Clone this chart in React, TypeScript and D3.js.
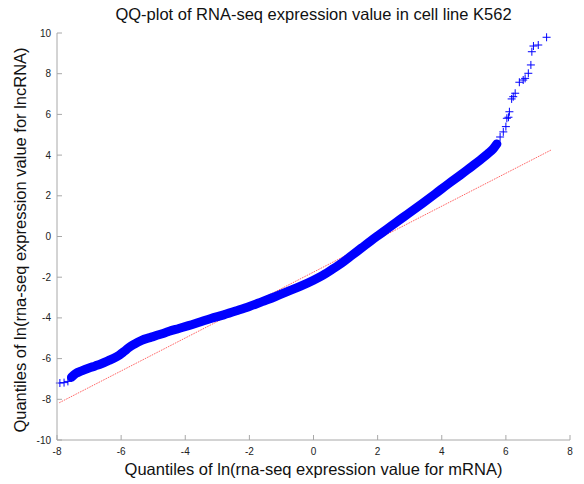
import React from "react";
import * as d3 from "d3";

// ---- data ----
const lowerTailX = [-7.91, -7.78, -7.66];
const lowerTailY = [-7.2, -7.18, -7.12];

const bodyX = [
  -7.55, -7.42, -7.23, -7.0, -6.81, -6.6, -6.4, -6.2, -6.05, -5.9, -5.75, -5.6,
  -5.36, -5.1, -4.8, -4.5, -4.2, -3.9, -3.54, -3.2, -2.8, -2.4, -2.0, -1.6,
  -1.2, -0.8, -0.4, 0.0, 0.3, 0.6, 0.9, 1.2, 1.5, 1.8, 2.0, 2.3, 2.6, 3.0,
  3.4, 3.8, 4.2, 4.6, 4.9, 5.2, 5.45, 5.6, 5.72,
];
const bodyY = [
  -6.92, -6.74, -6.6, -6.46, -6.36, -6.24, -6.1, -5.96, -5.82, -5.64, -5.45,
  -5.3, -5.1, -4.97, -4.82, -4.66, -4.52, -4.38, -4.2, -4.03, -3.85, -3.65,
  -3.44, -3.2, -2.96, -2.7, -2.44, -2.15, -1.9, -1.6, -1.28, -0.92, -0.56,
  -0.2, 0.03, 0.37, 0.72, 1.17, 1.63, 2.1, 2.58, 3.04, 3.4, 3.76, 4.08, 4.3,
  4.55,
];

const upperTailX = [
  5.82, 5.92, 6.0, 6.03, 6.08, 6.11, 6.18, 6.23, 6.29, 6.42, 6.54, 6.6, 6.7,
  6.78, 6.81, 6.86, 7.01, 7.27,
];
const upperTailY = [
  4.89, 5.14, 5.4, 5.81, 5.86, 6.13, 6.76, 6.87, 7.04, 7.58, 7.69, 7.77, 8.02,
  8.43, 9.08, 9.36, 9.41, 9.79,
];

const refLineX = [-7.93, 7.41];
const refLineY = [-8.17, 4.25];

const xTicks = [-8, -6, -4, -2, 0, 2, 4, 6, 8];
const yTicks = [-10, -8, -6, -4, -2, 0, 2, 4, 6, 8, 10];

const title = "QQ-plot of RNA-seq expression value in cell line K562";
const xLabel = "Quantiles of ln(rna-seq expression value for mRNA)";
const yLabel = "Quantiles of ln(rna-seq expression value for lncRNA)";

export default function App() {
  const W = 584;
  const H = 484;
  const left = 57;
  const right = 570;
  const top = 33;
  const bottom = 440;
  const x = d3.scaleLinear().domain([-8, 8]).range([left, right]);
  const y = d3.scaleLinear().domain([-10, 10]).range([bottom, top]);

  const font = "'Liberation Sans', Arial, Helvetica, sans-serif";
  const axisColor = "#a8a8a8";
  const blue = "#0000ff";

  const bodyPts: [number, number][] = bodyX.map((v, i) => [v, bodyY[i]]);
  const bandPath =
    d3
      .line<[number, number]>()
      .x((d) => x(d[0]))
      .y((d) => y(d[1]))
      .curve(d3.curveMonotoneX)(bodyPts) || "";

  const allPts: [number, number][] = [
    ...lowerTailX.map((v, i) => [v, lowerTailY[i]] as [number, number]),
    ...bodyPts,
    ...upperTailX.map((v, i) => [v, upperTailY[i]] as [number, number]),
  ];
  const ms = 4;

  return (
    <svg
      width={W}
      height={H}
      style={{ position: "absolute", left: 0, top: 0, background: "#fff" }}
      fontFamily={font}
    >
      <rect x={0} y={0} width={W} height={H} fill="#fff" />
      {/* reference line */}
      <line
        x1={x(refLineX[0])}
        y1={y(refLineY[0])}
        x2={x(refLineX[1])}
        y2={y(refLineY[1])}
        stroke="#ff3b3b"
        strokeWidth={0.9}
        strokeDasharray="1.6,1"
        opacity={0.85}
      />
      {/* dense band of markers */}
      <path
        d={bandPath}
        fill="none"
        stroke={blue}
        strokeWidth={9}
        strokeLinecap="round"
        strokeLinejoin="round"
      />
      {/* markers */}
      {allPts.map((p, i) => (
        <g key={i} stroke={blue} strokeWidth={1}>
          <line x1={x(p[0]) - ms} x2={x(p[0]) + ms} y1={y(p[1])} y2={y(p[1])} />
          <line x1={x(p[0])} x2={x(p[0])} y1={y(p[1]) - ms} y2={y(p[1]) + ms} />
        </g>
      ))}
      {/* axes */}
      <line x1={left} x2={left} y1={top} y2={bottom} stroke={axisColor} strokeWidth={1} />
      <line x1={left} x2={right} y1={bottom} y2={bottom} stroke={axisColor} strokeWidth={1} />
      {yTicks.map((t) => (
        <g key={"y" + t}>
          <line x1={left} x2={left + 5} y1={y(t)} y2={y(t)} stroke={axisColor} />
          <text
            x={left - 6}
            y={y(t)}
            dy="0.35em"
            textAnchor="end"
            fontSize={10}
            fill="#222"
          >
            {t}
          </text>
        </g>
      ))}
      {xTicks.map((t) => (
        <g key={"x" + t}>
          <line x1={x(t)} x2={x(t)} y1={bottom} y2={bottom - 5} stroke={axisColor} />
          <text
            x={x(t)}
            y={bottom + 15}
            textAnchor="middle"
            fontSize={10}
            fill="#222"
          >
            {t}
          </text>
        </g>
      ))}
      <text
        x={(left + right) / 2}
        y={20}
        textAnchor="middle"
        fontSize={16.5}
        fill="#111"
      >
        {title}
      </text>
      <text
        x={(left + right) / 2}
        y={475}
        textAnchor="middle"
        fontSize={16.5}
        fill="#111"
      >
        {xLabel}
      </text>
      <text
        transform={`translate(26,240) rotate(-90)`}
        textAnchor="middle"
        fontSize={16.5}
        fill="#111"
      >
        {yLabel}
      </text>
    </svg>
  );
}
